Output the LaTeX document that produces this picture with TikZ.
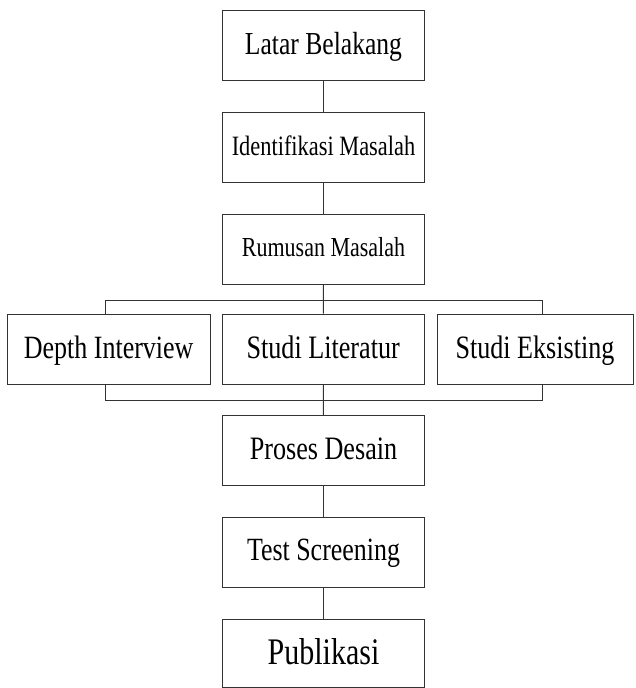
\documentclass[tikz,border=0pt]{standalone}
\usepackage{fontspec}
\setmainfont{Liberation Serif}[FakeStretch=0.8]
\newcommand{\sz}[1]{\fontsize{#1}{#1}\selectfont}
\begin{document}
\begin{tikzpicture}[x=1pt,y=-1pt,
  box/.style={draw=black!80,line width=1pt,minimum width=202pt,minimum height=70pt,inner sep=0pt,text depth=4pt},
  link/.style={draw=black!80,line width=1pt}]
\useasboundingbox (0,0) rectangle (635,688);
\node[box,font=\sz{32}] (LB) at (323.5,45.8) {Latar Belakang};
\node[box,font=\sz{28}] (IM) at (323.5,147.7) {Identifikasi Masalah};
\node[box,font=\sz{27.5}] (RM) at (323.5,249) {Rumusan Masalah};
\node[box,font=\sz{32.5},minimum width=202.7pt] (DI) at (108.7,349) {Depth Interview};
\node[box,font=\sz{32.7}] (SL) at (323.2,349) {Studi Literatur};
\node[box,font=\sz{32.6},minimum width=196pt] (SE) at (535,349) {Studi Eksisting};
\node[box,font=\sz{32.7}] (PD) at (323.5,450.7) {Proses Desain};
\node[box,font=\sz{32.4}] (TS) at (323.5,552) {Test Screening};
\node[box,font=\sz{37.5},minimum height=68pt] (PB) at (323.5,653) {Publikasi};
\coordinate (TL) at (105,300);
\coordinate (TR) at (542,300);
\coordinate (BL) at (105,400);
\coordinate (BR) at (542,400);
\draw[link] (LB) -- (IM);
\draw[link] (IM) -- (RM);
\draw[link] (RM) -- (SL);
\draw[link] (TL |- DI.north) -- (TL) -- (TR) -- (TR |- SE.north);
\draw[link] (BL |- DI.south) -- (BL) -- (BR) -- (BR |- SE.south);
\draw[link] (SL) -- (PD);
\draw[link] (PD) -- (TS);
\draw[link] (TS) -- (PB);
\end{tikzpicture}
\end{document}
